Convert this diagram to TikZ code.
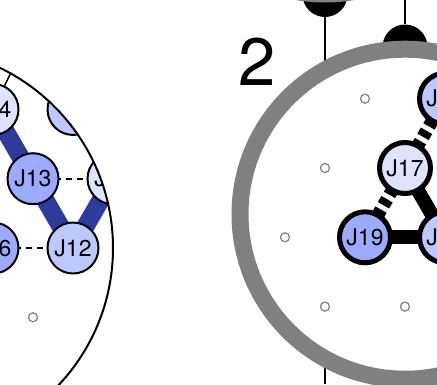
\documentclass[tikz,border=0pt]{standalone}
\usepackage{fontspec}
\setmainfont{TeX Gyre Heros}

\definecolor{pale}{HTML}{DEE3FF}
\definecolor{clair}{HTML}{BDC8FF}
\definecolor{moyen}{HTML}{9DABFF}
\definecolor{lien}{HTML}{2E3A9C}
\definecolor{anneau}{HTML}{808080}

\tikzset{
	site/.style={circle,draw,line width=2pt,minimum size=51pt,inner sep=0pt,font=\fontsize{23}{23}\selectfont},
	sitegras/.style={site,line width=5pt},
	vide/.style={circle,draw=anneau,fill=white,line width=1.2pt,minimum size=9pt,inner sep=0pt},
	prise/.style={circle,fill=black,minimum size=45pt,inner sep=0pt},
}

\begin{document}
\begin{tikzpicture}[x=1pt,y=-1pt]
	\def\pas{80}
	\def\haut{69.28}
	\useasboundingbox (0,0) rectangle (437,384);
	\clip (0,0) rectangle (437,384);

	% cellule 1
	\coordinate (c1) at (-87,248);
	\begin{scope}
		\clip (c1) circle (200pt);
		\coordinate (a14) at (-7,248-2*\haut);
		\coordinate (a15) at (-7+\pas,248-2*\haut);
		\coordinate (a13) at (33,248-\haut);
		\coordinate (a11) at (33+\pas,248-\haut);
		\coordinate (a16) at (-7,248);
		\coordinate (a12) at (-7+\pas,248);
		\draw[lien,line width=18pt] (a14) -- (a13) -- (a12) -- (a11);
		\draw[line width=2pt,dash pattern=on 6pt off 5pt] (a13) -- (a11);
		\draw[line width=2pt,dash pattern=on 6pt off 5pt] (a16) -- (a12);
		\node[site,fill=pale] (J14) at (a14) {\phantom{J1}4};
		\node[site,fill=clair] (J15) at (a15) {};
		\node[site,fill=moyen] (J13) at (a13) {J13};
		\node[site,fill=pale] (J11) at (a11) {J\phantom{11}};
		\node[site,fill=moyen] (J16) at (a16) {\phantom{J1}6};
		\node[site,fill=clair] (J12) at (a12) {J12};
		\node[vide] (v0) at (33,248+\haut) {};
	\end{scope}
	\draw[line width=2pt] (c1) circle (200pt);
	\draw[line width=1.5pt] (11,72.5) -- (J14);

	% prises
	\node[prise] (p1) at (325,-5.5) {};
	\node[prise] (p2) at (405,47) {};
	\coordinate (bas) at (325,384);
	\coordinate (top) at (405,0);
	\draw[line width=1.6pt] (p1) -- (bas);
	\draw[line width=1.6pt] (top) -- (p2);
	\draw[anneau,line width=17pt,fill=white] (325,-171) circle (165pt);

	% cellule 2
	\coordinate (c2) at (405,237.3-\haut/3);
	\draw[anneau,line width=17pt,fill=white] (c2) circle (165pt);
	\node[font=\fontsize{67}{67}\selectfont,inner sep=0pt] (num) at (257.5,62) {2};

	\foreach \x/\y in {365/98.7, 325/168, 285/237.3, 325/306.6, 405/306.6} {
		\node[vide] at (\x,\y) {};
	}
	\coordinate (b17) at (405,168);
	\coordinate (b19) at (365,237.3);
	\coordinate (b18) at (445,237.3);
	\coordinate (b20) at (445,98.7);
	\draw[line width=14pt] (b19) -- (b18);
	\draw[line width=14pt] (b17) -- (b18);
	\draw[line width=13pt,dash pattern=on 7pt off 5pt] (b17) -- (b19);
	\draw[line width=13pt,dash pattern=on 7pt off 5pt] (b17) -- (b20);
	\node[sitegras,fill=pale] (J17) at (b17) {J17};
	\node[sitegras,fill=moyen] (J19) at (b19) {J19};
	\node[sitegras,fill=clair] (J18) at (b18) {J\phantom{18}};
	\node[sitegras,fill=clair] (J20) at (b20) {J\phantom{20}};
\end{tikzpicture}
\end{document}
